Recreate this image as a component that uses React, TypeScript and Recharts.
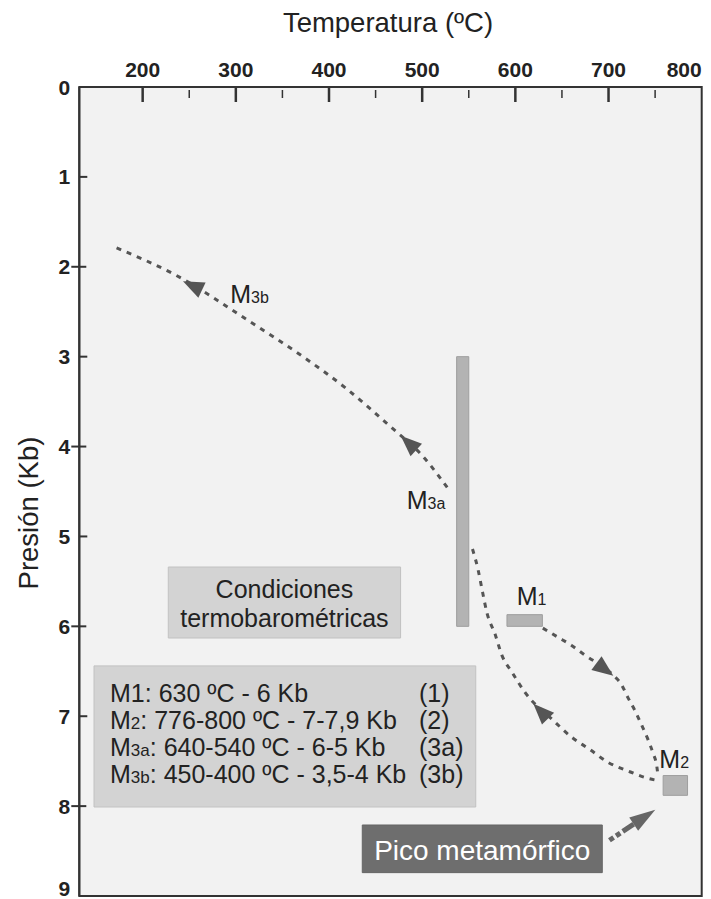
import { ComposedChart, XAxis, YAxis, Line, Scatter, ReferenceArea, Customized } from "recharts";

const FONT = "'Liberation Sans', Arial, Helvetica, sans-serif";

// axis ticks
const tempTicks = [200, 250, 300, 350, 400, 450, 500, 550, 600, 650, 700, 750, 800];
const pressureTicks = [0, 1, 2, 3, 4, 5, 6, 7, 8, 9];

// P-T paths (t = ºC, p = Kb)
const pathM3aM3b = [
  { t: 172, p: 1.79 },
  { t: 235, p: 2.09 },
  { t: 315, p: 2.61 },
  { t: 372, p: 3.0 },
  { t: 418, p: 3.35 },
  { t: 465, p: 3.77 },
  { t: 500, p: 4.1 },
  { t: 530, p: 4.5 },
];

const pathM2M3a = [
  { t: 554, p: 5.14 },
  { t: 560, p: 5.37 },
  { t: 565, p: 5.63 },
  { t: 569.5, p: 5.85 },
  { t: 578, p: 6.08 },
  { t: 585.5, p: 6.32 },
  { t: 597, p: 6.52 },
  { t: 610, p: 6.73 },
  { t: 640, p: 7.04 },
  { t: 660, p: 7.23 },
  { t: 680, p: 7.37 },
  { t: 699, p: 7.51 },
  { t: 721, p: 7.61 },
  { t: 742, p: 7.69 },
  { t: 755, p: 7.72 },
];

const pathM1M2 = [
  { t: 629.5, p: 6.02 },
  { t: 645.6, p: 6.12 },
  { t: 660, p: 6.21 },
  { t: 674.6, p: 6.32 },
  { t: 704.6, p: 6.54 },
  { t: 714, p: 6.65 },
  { t: 720.7, p: 6.79 },
  { t: 728, p: 6.93 },
  { t: 735.6, p: 7.1 },
  { t: 742.4, p: 7.26 },
  { t: 747.7, p: 7.41 },
  { t: 752, p: 7.57 },
  { t: 753, p: 7.66 },
];

// arrow heads: [from, tip]
const arrowM3b = [{ t: 263.7, p: 2.26 }, { t: 243.3, p: 2.16 }];
const arrowM3a = [{ t: 495, p: 4.05 }, { t: 477, p: 3.88 }];
const arrowReturn = [{ t: 635.4, p: 7.03 }, { t: 619.3, p: 6.86 }];
const arrowProgr = [{ t: 685.8, p: 6.4 }, { t: 705.1, p: 6.55 }];
const peakArrow = [{ t: 701, p: 8.38 }, { t: 727, p: 8.2 }];

// metamorphic stage boxes
const stageBoxes = [
  { name: "M3a", t1: 537, t2: 550, p1: 3.0, p2: 6.0 },
  { name: "M1", t1: 591, t2: 629, p1: 5.87, p2: 6.0 },
  { name: "M2", t1: 758.6, t2: 784.8, p1: 7.66, p2: 7.88 },
];

const stageLabels = [
  { t: 294, p: 2.4, main: "M", sub: "3b" },
  { t: 483.4, p: 4.69, main: "M", sub: "3a" },
  { t: 601.5, p: 5.76, main: "M", sub: "1" },
  { t: 754.5, p: 7.58, main: "M", sub: "2" },
];

const legendRows = [
  { main: "M1", sub: "", text: ": 630 ºC - 6 Kb", ref: "(1)" },
  { main: "M", sub: "2", text: ": 776-800 ºC - 7-7,9 Kb", ref: "(2)" },
  { main: "M", sub: "3a", text: ": 640-540 ºC - 6-5 Kb", ref: "(3a)" },
  { main: "M", sub: "3b", text: ": 450-400 ºC - 3,5-4 Kb", ref: "(3b)" },
];

function TempTick({ x, y, payload }: any) {
  const v = payload.value;
  const major = v % 100 === 0;
  return (
    <g>
      {v !== 800 && (
        <line
          x1={x}
          x2={x}
          y1={major ? y + 1 : y + 3}
          y2={major ? y + 15 : y + 11}
          stroke="#333"
          strokeWidth={major ? 2.5 : 1.5}
        />
      )}
      {major && (
        <text x={x} y={y - 10.5} textAnchor={v === 800 ? "end" : "middle"} fontSize={21} fontWeight="bold" fill="#222" fontFamily={FONT}>
          {v}
        </text>
      )}
    </g>
  );
}

function PressTick({ x, y, payload }: any) {
  const v = payload.value;
  const major = v % 2 === 0;
  const edge = v === 0 || v === 9;
  return (
    <g>
      {!edge && (
        <line
          x1={major ? x - 8 : x}
          x2={major ? x + 7 : x + 8}
          y1={y}
          y2={y}
          stroke="#333"
          strokeWidth={2}
        />
      )}
      <text x={x - 9} y={v === 9 ? y - 0.5 : y + 7.5} textAnchor="end" fontSize={21} fontWeight="bold" fill="#222" fontFamily={FONT}>
        {v}
      </text>
    </g>
  );
}

function StageLabel({ cx, cy, payload }: any) {
  return (
    <text x={cx} y={cy} fontSize={25} fill="#222" fontFamily={FONT}>
      {payload.main}
      <tspan fontSize={16}>{payload.sub}</tspan>
    </text>
  );
}

function CondicionesLabel({ viewBox }: any) {
  const { x, y, width } = viewBox;
  return (
    <text x={x + width / 2} textAnchor="middle" fontSize={25} fill="#222" fontFamily={FONT}>
      <tspan x={x + width / 2} y={y + 31}>Condiciones</tspan>
      <tspan x={x + width / 2} y={y + 59.5}>termobarométricas</tspan>
    </text>
  );
}

function LegendLabel({ viewBox }: any) {
  const { x, y } = viewBox;
  return (
    <g fontSize={25} fill="#222" fontFamily={FONT}>
      {legendRows.map((r, i) => (
        <g key={r.ref}>
          <text x={x + 16} y={y + 36 + i * 27.2}>
            {r.main}
            <tspan fontSize={17}>{r.sub}</tspan>
            {r.text}
          </text>
          <text x={x + 325} y={y + 36 + i * 27.2}>{r.ref}</text>
        </g>
      ))}
    </g>
  );
}

function PicoLabel({ viewBox }: any) {
  const { x, y, width } = viewBox;
  return (
    <text x={x + width / 2} y={y + 35} textAnchor="middle" fontSize={28} fill="#fff" fontFamily={FONT}>
      Pico metamórfico
    </text>
  );
}

function Decorations() {
  return (
    <g>
      <defs>
        <marker id="head" markerUnits="userSpaceOnUse" markerWidth={21} markerHeight={17} viewBox="0 0 21 17" refX={21} refY={8.5} orient="auto" overflow="visible">
          <path d="M0,0 L21,8.5 L0,17 Z" fill="#555" />
        </marker>
        <marker id="peakHead" markerUnits="userSpaceOnUse" markerWidth={26} markerHeight={16} viewBox="0 0 26 16" refX={0} refY={8} orient="auto" overflow="visible">
          <path d="M0,0 L26,8 L0,16 Z" fill="#666" />
        </marker>
      </defs>
      <text x={388} y={32} textAnchor="middle" fontSize={27.5} fill="#222" fontFamily={FONT}>
        Temperatura (ºC)
      </text>
      <text transform="translate(38,513) rotate(-90)" textAnchor="middle" fontSize={27.5} fill="#222" fontFamily={FONT}>
        Presión (Kb)
      </text>
    </g>
  );
}

export default function App() {
  return (
    <div style={{ position: "absolute", left: 0, top: 0, background: "#fff" }}>
      <ComposedChart width={711} height={899} margin={{ top: 57, right: 9.3, bottom: 3, left: 49.3 }}>
        <Customized component={Decorations} />
        <XAxis
          xAxisId={0}
          type="number"
          dataKey="t"
          orientation="top"
          domain={[132, 800]}
          allowDataOverflow
          ticks={tempTicks}
          interval={0}
          height={30}
          tickSize={0}
          tickMargin={0}
          tickLine={false}
          axisLine={{ stroke: "#333", strokeWidth: 2 }}
          tick={<TempTick />}
        />
        <YAxis
          yAxisId={0}
          type="number"
          dataKey="p"
          domain={[0, 9]}
          reversed
          allowDataOverflow
          ticks={pressureTicks}
          interval={0}
          width={30}
          tickSize={0}
          tickMargin={0}
          tickLine={false}
          axisLine={{ stroke: "#333", strokeWidth: 2 }}
          tick={<PressTick />}
        />
        <ReferenceArea x1={132} x2={800} y1={0} y2={9} fill="#f2f2f2" fillOpacity={1} stroke="#333" strokeWidth={2} />
        <ReferenceArea x1={227.5} x2={476.8} y1={5.34} y2={6.13} fill="#d3d3d3" fillOpacity={1} stroke="#c2c2c2" label={CondicionesLabel} />
        <ReferenceArea x1={147.8} x2={557.5} y1={6.44} y2={8.01} fill="#d3d3d3" fillOpacity={1} stroke="#c2c2c2" label={LegendLabel} />
        <ReferenceArea x1={435.7} x2={693.3} y1={8.21} y2={8.74} fill="#6e6e6e" fillOpacity={1} stroke="#666" label={PicoLabel} />
        {stageBoxes.map((b) => (
          <ReferenceArea key={b.name} x1={b.t1} x2={b.t2} y1={b.p1} y2={b.p2} fill="#b3b3b3" fillOpacity={1} stroke="#9e9e9e" />
        ))}
        {[pathM3aM3b, pathM2M3a, pathM1M2].map((d, i) => (
          <Line
            key={"path" + i}
            data={d}
            dataKey="p"
            type="monotone"
            stroke="#555"
            strokeWidth={3}
            strokeDasharray="5 6"
            dot={false}
            activeDot={false}
            isAnimationActive={false}
          />
        ))}
        {[arrowM3b, arrowM3a, arrowReturn, arrowProgr].map((d, i) => (
          <Line
            key={"arrow" + i}
            data={d}
            dataKey="p"
            type="linear"
            stroke="none"
            markerEnd="url(#head)"
            dot={false}
            activeDot={false}
            isAnimationActive={false}
          />
        ))}
        <Line
          data={peakArrow}
          dataKey="p"
          type="linear"
          stroke="#666"
          strokeWidth={5}
          strokeDasharray="5 3 5 3 60"
          markerEnd="url(#peakHead)"
          dot={false}
          activeDot={false}
          isAnimationActive={false}
        />
        <Scatter data={stageLabels} dataKey="p" shape={<StageLabel />} isAnimationActive={false} />
      </ComposedChart>
    </div>
  );
}
